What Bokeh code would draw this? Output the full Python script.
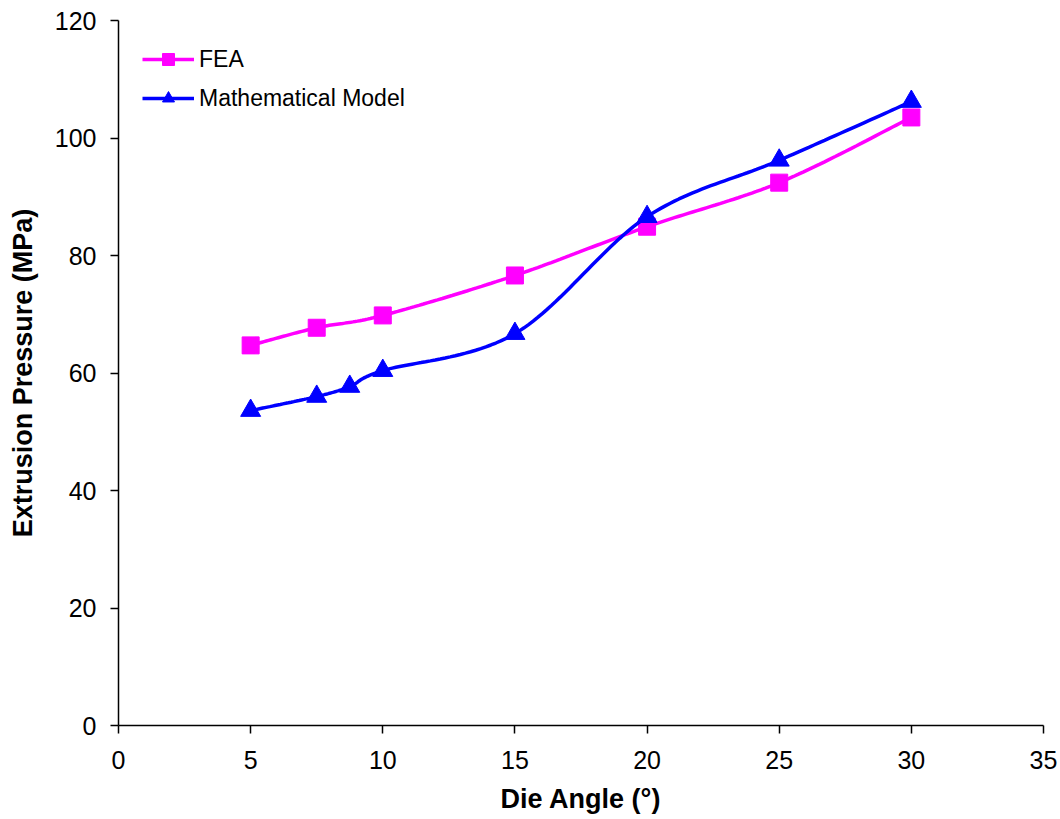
import numpy as np
from bokeh.plotting import figure
from bokeh.models import Range1d, FixedTicker, Legend
from bokeh.embed import file_html
from bokeh.resources import INLINE

fea_x = [5, 7.5, 10, 15, 20, 25, 30]
fea_y = [64.7, 67.7, 69.8, 76.6, 84.9, 92.4, 103.5]
math_x = [5, 7.5, 8.75, 10, 15, 20, 25, 30]
math_y = [53.6, 56.0, 57.7, 60.4, 66.7, 86.6, 96.2, 106.2]
x_ticks = [0, 5, 10, 15, 20, 25, 30, 35]
y_ticks = [0, 20, 40, 60, 80, 100, 120]


def smooth(xs, ys, n=30):
    # Excel-style smoothed line (Catmull-Rom Bezier) through the data points
    P = np.column_stack([xs, ys]).astype(float)
    m = len(P)
    out = []
    for i in range(m - 1):
        p0 = P[i - 1] if i > 0 else P[i]
        p1 = P[i]
        p2 = P[i + 1]
        p3 = P[i + 2] if i + 2 < m else P[i + 1]
        c1 = p1 + (p2 - p0) / 6.0
        c2 = p2 - (p3 - p1) / 6.0
        t = np.linspace(0, 1, n)[:, None]
        seg = ((1 - t) ** 3) * p1 + 3 * ((1 - t) ** 2) * t * c1 + 3 * (1 - t) * t ** 2 * c2 + t ** 3 * p2
        out.append(seg if i == 0 else seg[1:])
    arr = np.vstack(out)
    return arr[:, 0], arr[:, 1]


p = figure(width=1060, height=819, output_backend="svg", toolbar_location=None,
           x_range=Range1d(0, 35), y_range=Range1d(0, 120),
           min_border_left=118, min_border_right=17, min_border_top=20, min_border_bottom=94)
p.outline_line_color = None
p.xgrid.visible = False
p.ygrid.visible = False
p.background_fill_color = "white"

font = "Liberation Sans"
for ax in (p.xaxis, p.yaxis):
    ax.axis_line_color = "black"
    ax.axis_line_width = 1.5
    ax.major_tick_line_color = "black"
    ax.major_tick_line_width = 1.5
    ax.major_tick_out = 8
    ax.major_tick_in = 0
    ax.minor_tick_line_color = None
    ax.major_label_text_font = font
    ax.major_label_text_font_size = "25px"
    ax.major_label_text_color = "black"
    ax.axis_label_text_font = font
    ax.axis_label_text_font_size = "27px"
    ax.axis_label_text_font_style = "bold"
    ax.axis_label_text_color = "black"

p.xaxis.ticker = FixedTicker(ticks=x_ticks)
p.yaxis.ticker = FixedTicker(ticks=y_ticks)
p.xaxis.axis_label = "Die Angle (°)"
p.yaxis.axis_label = "Extrusion Pressure (MPa)"
p.xaxis.major_label_standoff = 17
p.yaxis.major_label_standoff = 14
p.xaxis.axis_label_standoff = 12
p.yaxis.axis_label_standoff = 14

fx, fy = smooth(fea_x, fea_y)
mx, my = smooth(math_x, math_y)

r1 = p.line(fx, fy, line_color="#FF00FF", line_width=3.5)
s1 = p.scatter(fea_x, fea_y, marker="square", size=17, fill_color="#FF00FF", line_color="#FF00FF")
r2 = p.line(mx, my, line_color="#0000FF", line_width=3.5)
s2 = p.scatter(math_x, math_y, marker="triangle", size=20, fill_color="#0000FF", line_color="#0000FF")

legend = Legend(items=[("FEA", [r1, s1]), ("Mathematical Model", [r2, s2])],
                location=(24, 612))
legend.border_line_color = None
legend.background_fill_alpha = 0
legend.label_text_font = font
legend.label_text_font_size = "23px"
legend.label_text_color = "black"
legend.glyph_width = 52
legend.glyph_height = 30
legend.spacing = 9
legend.margin = 0
legend.padding = 5
legend.label_standoff = 5
p.add_layout(legend)

open("out.html", "w").write(file_html(p, INLINE))
